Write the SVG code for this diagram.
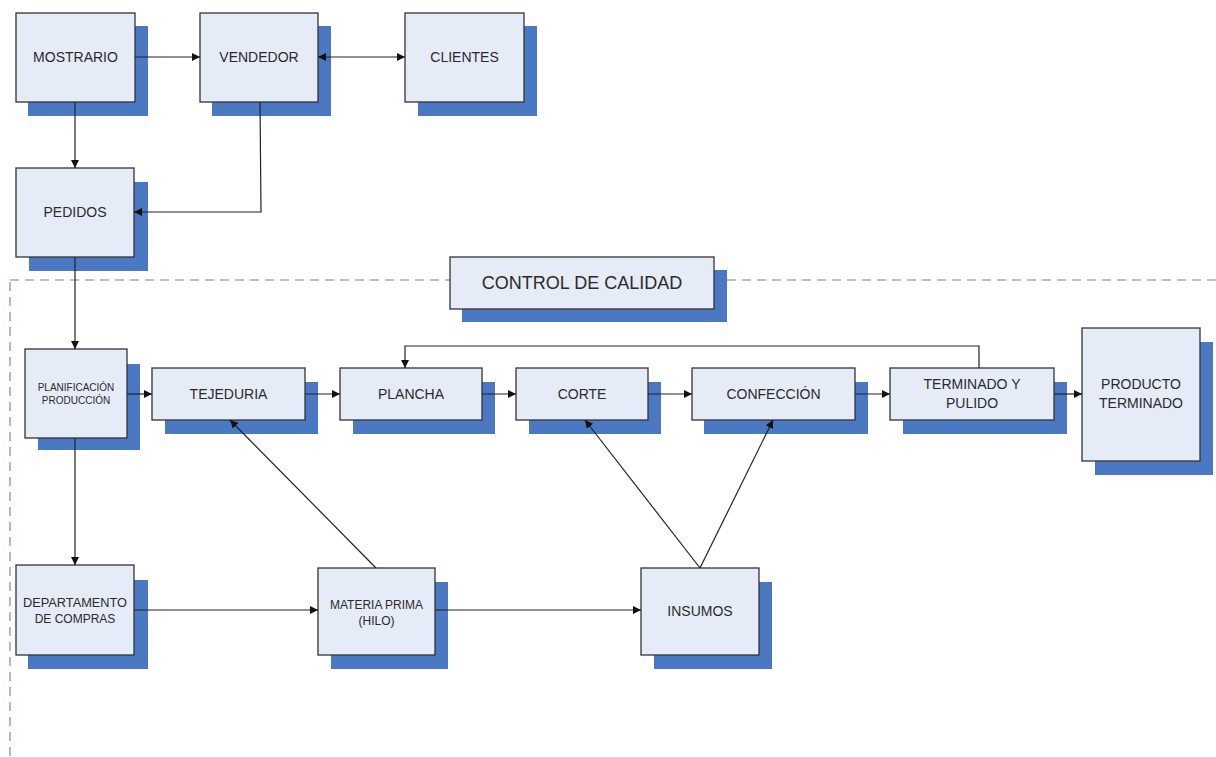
<svg xmlns="http://www.w3.org/2000/svg" width="1216" height="757" viewBox="0 0 1216 757">
<defs>
<style>
.sh{fill:#4a78c2;}
.bx{fill:#e6ecf7;stroke:#333;stroke-width:1.3;}
.t{font-family:"Liberation Sans",Arial,sans-serif;font-size:14px;fill:#2a2a2a;text-anchor:middle;}
.ts{font-family:"Liberation Sans",Arial,sans-serif;font-size:10px;fill:#2a2a2a;text-anchor:middle;}
.tm{font-family:"Liberation Sans",Arial,sans-serif;font-size:12px;fill:#2a2a2a;text-anchor:middle;}
.tl{font-family:"Liberation Sans",Arial,sans-serif;font-size:18px;fill:#2a2a2a;text-anchor:middle;}
.c{fill:none;stroke:#222;stroke-width:1.2;}
.dh{fill:none;stroke:#7c8088;stroke-width:1.2;stroke-dasharray:9,6;}
.dv{fill:none;stroke:#6f8fc8;stroke-width:1.2;stroke-dasharray:9,6;}
</style>
<marker id="a" viewBox="0 0 10 10" refX="10" refY="5" markerWidth="8" markerHeight="8" markerUnits="userSpaceOnUse" orient="auto-start-reverse"><path d="M0,0 L10,5 L0,10 z" fill="#111"/></marker>
</defs>
<rect width="1216" height="757" fill="#fff"/>
<g id="boundary">
<path class="dh" d="M10,280 H450 M727,280 H1216"/>
<path class="dv" d="M10,282 V757"/>
</g>
<g id="mostrario"><rect class="sh" x="28" y="26" width="120" height="90"/><rect class="bx" x="16" y="13" width="119" height="89"/><text class="t" x="75.5" y="62">MOSTRARIO</text></g>
<g id="vendedor"><rect class="sh" x="212" y="26" width="119" height="90"/><rect class="bx" x="200" y="13" width="118" height="89"/><text class="t" x="259" y="62">VENDEDOR</text></g>
<g id="clientes"><rect class="sh" x="418" y="26" width="119" height="90"/><rect class="bx" x="405" y="13" width="119" height="89"/><text class="t" x="464.5" y="62">CLIENTES</text></g>
<g id="pedidos"><rect class="sh" x="29" y="182" width="119" height="89"/><rect class="bx" x="16" y="168" width="118" height="89"/><text class="t" x="75" y="217">PEDIDOS</text></g>
<g id="control"><rect class="sh" x="462" y="270" width="265" height="52"/><rect class="bx" x="450" y="257" width="264" height="52"/><text class="tl" x="582" y="289">CONTROL DE CALIDAD</text></g>
<g id="planificacion"><rect class="sh" x="38" y="364" width="102" height="86"/><rect class="bx" x="25" y="349" width="102" height="89"/><text class="ts" x="76" y="391">PLANIFICACIÓN</text><text class="ts" x="76" y="404">PRODUCCIÓN</text></g>
<g id="tejeduria"><rect class="sh" x="165" y="382" width="153" height="52"/><rect class="bx" x="152" y="368" width="153" height="52"/><text class="t" x="228.5" y="399">TEJEDURIA</text></g>
<g id="plancha"><rect class="sh" x="353" y="382" width="142" height="52"/><rect class="bx" x="340" y="368" width="142" height="52"/><text class="t" x="411" y="399">PLANCHA</text></g>
<g id="corte"><rect class="sh" x="529" y="382" width="132" height="52"/><rect class="bx" x="516" y="368" width="132" height="52"/><text class="t" x="582" y="399">CORTE</text></g>
<g id="confeccion"><rect class="sh" x="704" y="382" width="164" height="52"/><rect class="bx" x="692" y="368" width="163" height="52"/><text class="t" x="773.5" y="399">CONFECCIÓN</text></g>
<g id="terminado"><rect class="sh" x="903" y="382" width="164" height="52"/><rect class="bx" x="890" y="368" width="164" height="52"/><text class="t" x="972" y="389">TERMINADO Y</text><text class="t" x="972" y="408">PULIDO</text></g>
<g id="producto"><rect class="sh" x="1095" y="342" width="118" height="133"/><rect class="bx" x="1082" y="328" width="118" height="133"/><text class="t" x="1141" y="389">PRODUCTO</text><text class="t" x="1141" y="408">TERMINADO</text></g>
<g id="departamento"><rect class="sh" x="28" y="580" width="120" height="89"/><rect class="bx" x="16" y="565" width="118" height="90"/><text class="tm" x="75" y="607" textLength="104" lengthAdjust="spacingAndGlyphs">DEPARTAMENTO</text><text class="tm" x="75" y="623">DE COMPRAS</text></g>
<g id="materia"><rect class="sh" x="331" y="582" width="117" height="87"/><rect class="bx" x="318" y="568" width="117" height="87"/><text class="tm" x="376.5" y="609">MATERIA PRIMA</text><text class="tm" x="376.5" y="625">(HILO)</text></g>
<g id="insumos"><rect class="sh" x="654" y="582" width="118" height="87"/><rect class="bx" x="641" y="568" width="118" height="87"/><text class="t" x="700" y="616">INSUMOS</text></g>
<g id="connectors">
<path class="c" d="M135,57 H200" marker-end="url(#a)"/>
<path class="c" d="M318,57 H405" marker-start="url(#a)" marker-end="url(#a)"/>
<path class="c" d="M75,102 V168" marker-end="url(#a)"/>
<path class="c" d="M260,102 L261,212 H134" marker-end="url(#a)"/>
<path class="c" d="M75,257 V349" marker-end="url(#a)"/>
<path class="c" d="M127,394 H152" marker-end="url(#a)"/>
<path class="c" d="M305,394 H340" marker-end="url(#a)"/>
<path class="c" d="M482,394 H516" marker-end="url(#a)"/>
<path class="c" d="M648,394 H692" marker-end="url(#a)"/>
<path class="c" d="M855,394 H890" marker-end="url(#a)"/>
<path class="c" d="M1054,394 H1082" marker-end="url(#a)"/>
<path class="c" d="M979,368 V346 H405 V368" marker-end="url(#a)"/>
<path class="c" d="M75,438 V565" marker-end="url(#a)"/>
<path class="c" d="M134,610 H318" marker-end="url(#a)"/>
<path class="c" d="M435,610 H641" marker-end="url(#a)"/>
<path class="c" d="M376,568 L230,420" marker-end="url(#a)"/>
<path class="c" d="M700,568 L585,420" marker-end="url(#a)"/>
<path class="c" d="M700,568 L773,420" marker-end="url(#a)"/>
</g>
</svg>
